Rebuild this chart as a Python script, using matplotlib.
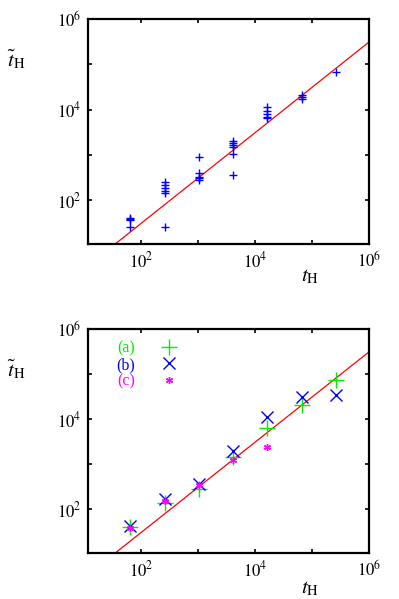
import numpy as np
import matplotlib
matplotlib.use("Agg")
import matplotlib.pyplot as plt
from matplotlib.ticker import FixedLocator, NullLocator

plt.rcParams['font.family'] = ['Liberation Serif', 'DejaVu Serif']
plt.rcParams['mathtext.fontset'] = 'stix'

# system sizes (x positions of the points)
t_h = [64, 256, 1024, 4096, 16384, 65536, 262144]

# top panel: all individual runs
top_x = [64, 64, 64, 64,
         256, 256, 256, 256, 256, 256,
         1024, 1024, 1024, 1024, 1024,
         4096, 4096, 4096, 4096, 4096, 4096,
         16384, 16384, 16384, 16384, 16384,
         65536, 65536, 65536,
         262144]
top_y = [41, 38, 36, 25,
         257, 219, 182, 155, 141, 25,
         912, 389, 331, 302, 282,
         2040, 1820, 1660, 1510, 1050, 363,
         11500, 9500, 7900, 7000, 6400,
         21000, 18600, 17000,
         66000]

# bottom panel: three series
y_a = [40, 138, 282, 1480, 6500, 20400, 74000]
y_b = [42, 166, 355, 2000, 11400, 31000, 34000]
x_c = [64, 256, 1024, 4096, 16384]
y_c = [39, 155, 347, 1230, 2350]

# reference line  t~ = coef * t
line_coef = 0.31
line_x = [10, 1e6]

fig = plt.figure(figsize=(3.99, 5.99), dpi=100)
ax1 = fig.add_axes([0.2206, 0.5927, 0.7042, 0.3756])
ax2 = fig.add_axes([0.2206, 0.0768, 0.7042, 0.3740])


def style(ax, xlab_y):
    ax.set_xscale('log')
    ax.set_yscale('log')
    ax.set_xlim(10 ** 1.06, 1e6)
    ax.set_ylim(10 ** 1.03, 1e6)
    ax.plot(line_x, [line_coef * v for v in line_x], color='red', lw=0.9, zorder=1)
    for s in ax.spines.values():
        s.set_linewidth(1.6)
    ax.xaxis.set_major_locator(FixedLocator([1e2, 1e3, 1e4, 1e5, 1e6]))
    ax.yaxis.set_major_locator(FixedLocator([1e2, 1e3, 1e4, 1e5, 1e6]))
    ax.xaxis.set_minor_locator(NullLocator())
    ax.yaxis.set_minor_locator(NullLocator())
    labs = ['$10^2$', '', '$10^4$', '', '$10^6$']
    ax.set_xticklabels(labs)
    ax.set_yticklabels(labs)
    ax.tick_params(direction='in', length=3, width=1.2, top=True, right=True,
                   labelsize=12, pad=5)
    ax.set_xlabel(r'$t_{\rm H}$', fontsize=15, va='center')
    ax.xaxis.set_label_coords(0.79, xlab_y)
    ax.set_ylabel(r'$\tilde{t}_{\rm H}$', fontsize=15, rotation=0,
                  ha='center', va='center')
    ax.yaxis.set_label_coords(-0.255, 0.82)


style(ax1, -0.145)
ax1.plot(top_x, top_y, linestyle='none', marker='+', color='blue',
         markersize=6, markeredgewidth=1.0, zorder=3)

style(ax2, -0.16)
ax2.plot(t_h, y_a, linestyle='none', marker='+', color='#00ee00',
         markersize=11, markeredgewidth=1.0, zorder=3, label='(a)')
ax2.plot(t_h, y_b, linestyle='none', marker='x', color='blue',
         markersize=8, markeredgewidth=1.0, zorder=3, label='(b)')
ax2.plot(x_c, y_c, linestyle='none', marker=(6, 2, 0), color='magenta',
         markersize=5, markeredgewidth=1.0, zorder=4, label='(c)')

leg = ax2.legend(loc='upper left', bbox_to_anchor=(0.06, 1.0), frameon=False,
                 markerfirst=False, fontsize=11.5, handlelength=1.5,
                 handletextpad=1.4, labelspacing=0.05, borderaxespad=0.3)
for txt, c in zip(leg.get_texts(), ['#00ee00', 'blue', 'magenta']):
    txt.set_color(c)

fig.savefig('out.png', dpi=100)
